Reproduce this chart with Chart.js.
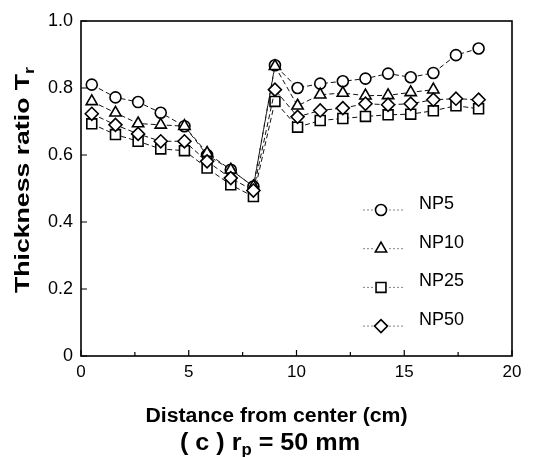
<!DOCTYPE html>
<html><head><meta charset="utf-8">
<script src="https://cdn.jsdelivr.net/npm/chart.js@4/dist/chart.umd.min.js"></script>
<style>html,body{margin:0;padding:0;background:#fff;}</style>
</head><body>
<canvas id="c" width="550" height="457"></canvas>
<script>
// ---- data ----
const distance = [0.5, 1.6, 2.65, 3.7, 4.8, 5.85, 6.95, 8.0, 9.0, 10.05, 11.1, 12.15, 13.2, 14.25, 15.3, 16.35, 17.4, 18.45];
const np5  = [0.81, 0.772, 0.758, 0.726, 0.686, 0.60, 0.556, 0.506, 0.868, 0.80, 0.813, 0.82, 0.828, 0.843, 0.832, 0.845, 0.898, 0.918];
const np10 = [0.76, 0.726, 0.694, 0.69, 0.686, 0.606, 0.556, 0.506, 0.865, 0.747, 0.78, 0.785, 0.777, 0.778, 0.787, 0.795];
const np25 = [0.693, 0.661, 0.641, 0.618, 0.613, 0.561, 0.511, 0.476, 0.76, 0.683, 0.703, 0.709, 0.715, 0.72, 0.722, 0.732, 0.747, 0.738];
const np50 = [0.723, 0.69, 0.663, 0.641, 0.641, 0.581, 0.531, 0.494, 0.795, 0.714, 0.733, 0.74, 0.753, 0.75, 0.753, 0.765, 0.768, 0.765];
const seriesNames = ['NP5', 'NP10', 'NP25', 'NP50'];
const xMajorTicks = [0, 5, 10, 15, 20];
const xMinorTicks = [2.5, 7.5, 12.5, 17.5];
const yTicks = [0, 0.2, 0.4, 0.6, 0.8, 1.0];
const xTitle = 'Distance from center (cm)';
const yTitle = ['Thickness ratio T', 'r'];
const caption = ['( c ) r', 'p', ' = 50 mm'];

const pts = arr => arr.map((v, i) => ({x: distance[i], y: v}));
const styles = [
  {pointStyle: 'circle', radius: 5.5},
  {pointStyle: 'triangle', radius: 6.5},
  {pointStyle: 'rect', radius: 7},
  {pointStyle: 'rectRot', radius: 6.5}
];
const values = [np5, np10, np25, np50];

const datasets = values.map((arr, i) => ({
  label: seriesNames[i],
  data: pts(arr),
  borderColor: '#111',
  borderWidth: 1,
  borderDash: [5, 3],
  backgroundColor: '#fff',
  pointBackgroundColor: '#fff',
  pointBorderColor: '#000',
  pointBorderWidth: 1.6,
  pointStyle: styles[i].pointStyle,
  pointRadius: styles[i].radius,
  tension: 0,
  fill: false,
  order: 3 - i
}));

function drawRich(ctx, parts, size, target) {
  // parts: [text, sub, text, ...] alternating normal / subscript; drawn centred at 0 with baseline 0
  const big = 'bold ' + size + 'px "Liberation Sans", Arial, sans-serif';
  const small = 'bold ' + Math.round(size * 0.68) + 'px "Liberation Sans", Arial, sans-serif';
  let w = 0;
  const widths = parts.map((t, i) => { ctx.font = i % 2 ? small : big; const m = ctx.measureText(t).width; w += m; return m; });
  const sx = target ? target / w : 1;
  ctx.save();
  ctx.scale(sx, 1);
  let x = -w / 2;
  ctx.textBaseline = 'alphabetic';
  ctx.textAlign = 'left';
  parts.forEach((t, i) => {
    ctx.font = i % 2 ? small : big;
    ctx.fillText(t, x, i % 2 ? size * 0.22 : 0);
    x += widths[i];
  });
  ctx.restore();
}

const decor = {
  id: 'decor',
  afterDatasetsDraw(chart) {
    const {ctx, chartArea: a, scales: {x, y}} = chart;
    ctx.save();
    ctx.strokeStyle = '#000';
    ctx.fillStyle = '#000';
    ctx.lineWidth = 1.6;
    ctx.strokeRect(a.left, a.top, a.right - a.left, a.bottom - a.top);
    ctx.lineWidth = 1.2;
    ctx.beginPath();
    xMajorTicks.forEach(v => { const p = x.getPixelForValue(v); ctx.moveTo(p, a.bottom); ctx.lineTo(p, a.bottom - 6); });
    xMinorTicks.forEach(v => { const p = x.getPixelForValue(v); ctx.moveTo(p, a.bottom); ctx.lineTo(p, a.bottom - 4); });
    yTicks.forEach(v => { const p = y.getPixelForValue(v); ctx.moveTo(a.left, p); ctx.lineTo(a.left + 6, p); });
    ctx.stroke();

    // legend inside the plot
    chart.data.datasets.forEach((ds, i) => {
      const mx = a.left + 300, my = a.top + 189 + i * 38.7;
      ctx.save();
      ctx.strokeStyle = '#666';
      ctx.lineWidth = 0.8;
      ctx.setLineDash([2, 2]);
      ctx.beginPath();
      ctx.moveTo(mx - 18, my); ctx.lineTo(mx - 8, my);
      ctx.moveTo(mx + 8, my); ctx.lineTo(mx + 24, my);
      ctx.stroke();
      ctx.restore();
      ctx.save();
      ctx.fillStyle = '#fff';
      ctx.strokeStyle = '#000';
      ctx.lineWidth = 1.6;
      Chart.helpers.drawPoint(ctx, {pointStyle: ds.pointStyle, radius: ds.pointRadius, borderWidth: 1.6, rotation: 0}, mx, my);
      ctx.restore();
      ctx.font = '18px "Liberation Sans", Arial, sans-serif';
      ctx.textAlign = 'left';
      ctx.textBaseline = 'middle';
      ctx.fillStyle = '#000';
      ctx.fillText(ds.label, a.left + 338, my - 6);
    });

    // titles
    ctx.save();
    ctx.translate((a.left + a.right) / 2 - 20, 422);
    drawRich(ctx, [xTitle], 20, 262);
    ctx.restore();

    ctx.save();
    ctx.translate(29, 180);
    ctx.rotate(-Math.PI / 2);
    drawRich(ctx, yTitle, 21, 226);
    ctx.restore();

    ctx.save();
    ctx.translate(270, 450);
    drawRich(ctx, caption, 24, 180);
    ctx.restore();
    ctx.restore();
  }
};

new Chart(document.getElementById('c'), {
  type: 'line',
  data: {datasets},
  options: {
    responsive: false,
    animation: false,
    events: [],
    layout: {padding: {top: 21, right: 38, left: 0, bottom: 0}},
    plugins: {legend: {display: false}, tooltip: {enabled: false}},
    scales: {
      x: {
        type: 'linear', min: 0, max: 20,
        grid: {display: false, drawTicks: false},
        border: {display: false},
        afterFit: s => { s.height = 101; },
        afterBuildTicks: s => { s.ticks = xMajorTicks.map(v => ({value: v})); },
        ticks: {
          color: '#000', padding: 6,
          font: {family: '"Liberation Sans", Arial, sans-serif', size: 17},
          callback: v => String(v)
        }
      },
      y: {
        type: 'linear', min: 0, max: 1,
        grid: {display: false, drawTicks: false},
        border: {display: false},
        afterFit: s => { s.width = 81; },
        afterBuildTicks: s => { s.ticks = yTicks.map(v => ({value: v})); },
        ticks: {
          color: '#000', padding: 8,
          font: {family: '"Liberation Sans", Arial, sans-serif', size: 18},
          callback: v => (v === 0 ? '0' : Number(v).toFixed(1))
        }
      }
    }
  },
  plugins: [decor]
});
</script>
</body></html>
